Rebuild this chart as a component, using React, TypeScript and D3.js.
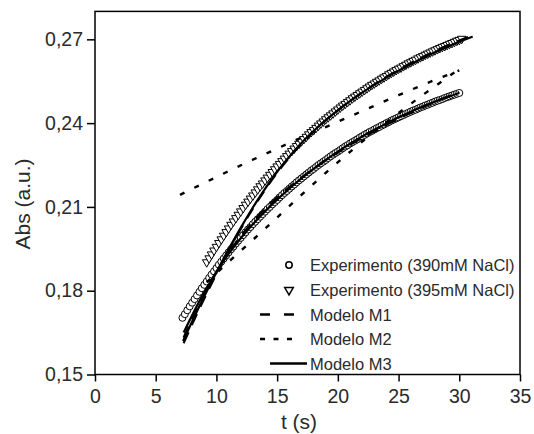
import React, { useRef, useEffect } from 'react';
import * as d3 from 'd3';

const W = 534;
const H = 434;

const xTicks = [0, 5, 10, 15, 20, 25, 30, 35];
const yTicks = [0.15, 0.18, 0.21, 0.24, 0.27];

// Experimento (390mM NaCl) — circles
const circT = [7.2,7.4,7.6,7.8,8.0,8.2,8.4,8.6,8.8,9.0,9.2,9.4,9.6,9.8,10.0,10.2,10.4,10.6,10.8,11.0,11.2,11.4,11.6,11.8,12.0,12.2,12.4,12.6,12.8,13.0,13.2,13.4,13.6,13.8,14.0,14.2,14.4,14.6,14.8,15.0,15.2,15.4,15.6,15.8,16.0,16.2,16.4,16.6,16.8,17.0,17.2,17.4,17.6,17.8,18.0,18.2,18.4,18.6,18.8,19.0,19.2,19.4,19.6,19.8,20.0,20.2,20.4,20.6,20.8,21.0,21.2,21.4,21.6,21.8,22.0,22.2,22.4,22.6,22.8,23.0,23.2,23.4,23.6,23.8,24.0,24.2,24.4,24.6,24.8,25.0,25.2,25.4,25.6,25.8,26.0,26.2,26.4,26.6,26.8,27.0,27.2,27.4,27.6,27.8,28.0,28.2,28.4,28.6,28.8,29.0,29.2,29.4,29.6,29.8,30.0];
const circAbs = [0.1703,0.1716,0.1730,0.1744,0.1757,0.1770,0.1783,0.1796,0.1809,0.1821,0.1833,0.1846,0.1858,0.1869,0.1881,0.1893,0.1904,0.1915,0.1926,0.1937,0.1948,0.1958,0.1969,0.1979,0.1989,0.1999,0.2009,0.2019,0.2028,0.2038,0.2047,0.2056,0.2065,0.2074,0.2083,0.2092,0.2100,0.2109,0.2117,0.2125,0.2134,0.2142,0.2150,0.2157,0.2165,0.2173,0.2180,0.2188,0.2195,0.2202,0.2209,0.2216,0.2223,0.2230,0.2236,0.2243,0.2250,0.2256,0.2262,0.2268,0.2275,0.2281,0.2287,0.2293,0.2298,0.2304,0.2310,0.2316,0.2321,0.2327,0.2332,0.2337,0.2342,0.2348,0.2353,0.2358,0.2363,0.2368,0.2372,0.2377,0.2382,0.2386,0.2391,0.2395,0.2400,0.2404,0.2409,0.2413,0.2417,0.2421,0.2425,0.2429,0.2433,0.2437,0.2441,0.2445,0.2448,0.2452,0.2456,0.2459,0.2463,0.2466,0.2470,0.2473,0.2477,0.2480,0.2483,0.2486,0.2490,0.2493,0.2496,0.2499,0.2502,0.2505,0.2508];

// Experimento (395mM NaCl) — triangles
const triT = [9.2,9.4,9.6,9.8,10.0,10.2,10.4,10.6,10.8,11.0,11.2,11.4,11.6,11.8,12.0,12.2,12.4,12.6,12.8,13.0,13.2,13.4,13.6,13.8,14.0,14.2,14.4,14.6,14.8,15.0,15.2,15.4,15.6,15.8,16.0,16.2,16.4,16.6,16.8,17.0,17.2,17.4,17.6,17.8,18.0,18.2,18.4,18.6,18.8,19.0,19.2,19.4,19.6,19.8,20.0,20.2,20.4,20.6,20.8,21.0,21.2,21.4,21.6,21.8,22.0,22.2,22.4,22.6,22.8,23.0,23.2,23.4,23.6,23.8,24.0,24.2,24.4,24.6,24.8,25.0,25.2,25.4,25.6,25.8,26.0,26.2,26.4,26.6,26.8,27.0,27.2,27.4,27.6,27.8,28.0,28.2,28.4,28.6,28.8,29.0,29.2,29.4,29.6,29.8,30.0,30.2];
const triAbs = [0.1902,0.1916,0.1930,0.1944,0.1957,0.1971,0.1984,0.1997,0.2010,0.2023,0.2036,0.2048,0.2060,0.2072,0.2084,0.2096,0.2108,0.2119,0.2130,0.2141,0.2152,0.2163,0.2174,0.2184,0.2195,0.2205,0.2215,0.2225,0.2235,0.2245,0.2254,0.2264,0.2273,0.2282,0.2291,0.2300,0.2309,0.2318,0.2326,0.2335,0.2343,0.2351,0.2360,0.2368,0.2375,0.2383,0.2391,0.2399,0.2406,0.2414,0.2421,0.2428,0.2435,0.2442,0.2449,0.2456,0.2463,0.2469,0.2476,0.2482,0.2489,0.2495,0.2501,0.2507,0.2513,0.2519,0.2525,0.2531,0.2537,0.2542,0.2548,0.2553,0.2559,0.2564,0.2569,0.2575,0.2580,0.2585,0.2590,0.2595,0.2599,0.2604,0.2609,0.2614,0.2618,0.2623,0.2627,0.2632,0.2636,0.2640,0.2645,0.2649,0.2653,0.2657,0.2661,0.2665,0.2669,0.2673,0.2676,0.2680,0.2684,0.2687,0.2691,0.2695,0.2698,0.2702];

// Modelo M1 (long dashes)
const m1T390 = [7.3,8,9,10,11,12,13,14,15,16,17,18,19,20,21,22,23,24,25,26,27,28,29,30];
const m1Abs390 = [0.1632,0.1700,0.1790,0.1868,0.1936,0.1995,0.2047,0.2093,0.2134,0.2171,0.2205,0.2237,0.2267,0.2295,0.2322,0.2347,0.2371,0.2394,0.2416,0.2437,0.2457,0.2476,0.2494,0.2511];
const m1T395 = [7.3,8,9,10,11,12,13,14,15,16,17,18,19,20,21,22,23,24,25,26,27,28,29,30,31];
const m1Abs395 = [0.1612,0.1680,0.1772,0.1860,0.1943,0.2021,0.2094,0.2161,0.2222,0.2277,0.2326,0.2370,0.2410,0.2446,0.2479,0.2510,0.2539,0.2566,0.2591,0.2615,0.2637,0.2658,0.2678,0.2696,0.2713];

// Modelo M2 (short dashes)
const m2T390 = [7.0,9,11,13,15,17,19,21,23,25,27,29,30];
const m2Abs390 = [0.2143,0.2186,0.2228,0.2269,0.2309,0.2348,0.2386,0.2424,0.2462,0.2500,0.2537,0.2572,0.2589];
const m2T395 = [9.2,11,13,15,17,19,21,23,25,27,29,29.8];
const m2Abs395 = [0.1830,0.1903,0.1982,0.2062,0.2143,0.2222,0.2297,0.2369,0.2436,0.2501,0.2563,0.2588];

// Modelo M3 (solid)
const m3T390 = [7.3,8,9,10,11,12,13,14,15,16,17,18,19,20,21,22,23,24,25,26,27,28,29,30];
const m3Abs390 = [0.1650,0.1712,0.1795,0.1868,0.1932,0.1988,0.2038,0.2084,0.2126,0.2165,0.2202,0.2236,0.2268,0.2298,0.2326,0.2352,0.2376,0.2399,0.2421,0.2441,0.2460,0.2477,0.2493,0.2508];
const m3T395 = [7.25,8,9,10,11,12,13,14,15,16,17,18,19,20,21,22,23,24,25,26,27,28,29,30,31.1];
const m3Abs395 = [0.1620,0.1690,0.1780,0.1866,0.1948,0.2025,0.2098,0.2165,0.2226,0.2280,0.2329,0.2372,0.2411,0.2446,0.2479,0.2509,0.2537,0.2563,0.2588,0.2611,0.2633,0.2654,0.2673,0.2691,0.2710];

const legendLabels = [
  'Experimento (390mM NaCl)',
  'Experimento (395mM NaCl)',
  'Modelo M1',
  'Modelo M2',
  'Modelo M3',
];

const FONT = '"Liberation Sans", Arial, Helvetica, sans-serif';
const TEXT = '#2a2a2a';

export default function App() {
  const ref = useRef<SVGSVGElement>(null);

  useEffect(() => {
    const svg = d3.select(ref.current);
    svg.selectAll('*').remove();

    const x = d3.scaleLinear().domain([0, 35]).range([95, 520]);
    const y = d3.scaleLinear().domain([0.15, 0.28]).range([374.5, 11.4]);

    const zip = (ts: number[], vs: number[]) => ts.map((t, i) => [t, vs[i]] as [number, number]);
    const line = d3
      .line<[number, number]>()
      .x((d) => x(d[0]))
      .y((d) => y(d[1]))
      .curve(d3.curveMonotoneX);

    // markers: circles
    const gData = svg.append('g');
    gData
      .selectAll('circle.c')
      .data(zip(circT, circAbs))
      .join('circle')
      .attr('class', 'c')
      .attr('cx', (d) => x(d[0]))
      .attr('cy', (d) => y(d[1]))
      .attr('r', 3.5)
      .attr('fill', '#fff')
      .attr('stroke', '#000')
      .attr('stroke-width', 1);

    const tri = d3.symbol().type(d3.symbolTriangle).size(32);
    gData
      .selectAll('path.t')
      .data(zip(triT, triAbs))
      .join('path')
      .attr('class', 't')
      .attr('d', tri() as string)
      .attr('transform', (d) => `translate(${x(d[0])},${y(d[1])}) rotate(180)`)
      .attr('fill', '#fff')
      .attr('stroke', '#000')
      .attr('stroke-width', 1);

    // model lines
    const models: { t: number[]; v: number[]; dash: string | null; w: number }[] = [
      { t: m1T390, v: m1Abs390, dash: '12,8', w: 2.2 },
      { t: m1T395, v: m1Abs395, dash: '12,8', w: 2.2 },
      { t: m2T390, v: m2Abs390, dash: '5,11', w: 2.4 },
      { t: m2T395, v: m2Abs395, dash: '5,11', w: 2.4 },
      { t: m3T390, v: m3Abs390, dash: null, w: 2.2 },
      { t: m3T395, v: m3Abs395, dash: null, w: 2.2 },
    ];
    const gLines = svg.append('g');
    models.forEach((m) => {
      gLines
        .append('path')
        .attr('d', line(zip(m.t, m.v)) as string)
        .attr('fill', 'none')
        .attr('stroke', '#000')
        .attr('stroke-width', m.w)
        .attr('stroke-dasharray', m.dash ?? null);
    });

    // frame
    svg
      .append('rect')
      .attr('x', x(0))
      .attr('y', y(0.28))
      .attr('width', x(35) - x(0))
      .attr('height', y(0.15) - y(0.28))
      .attr('fill', 'none')
      .attr('stroke', '#000')
      .attr('stroke-width', 1.5);

    // axes
    const xAxis = d3
      .axisBottom(x)
      .tickValues(xTicks)
      .tickSize(7)
      .tickPadding(8)
      .tickFormat((d) => String(d));
    const gx = svg.append('g').attr('transform', `translate(0,${y(0.15)})`).call(xAxis);
    gx.select('.domain').remove();
    gx.selectAll('line').attr('stroke', '#000').attr('stroke-width', 1.5);
    gx.selectAll('text').attr('font-family', FONT).attr('font-size', 19.5).attr('fill', TEXT);

    const yAxis = d3
      .axisLeft(y)
      .tickValues(yTicks)
      .tickSize(8)
      .tickPadding(4)
      .tickFormat((d) => (d as number).toFixed(2).replace('.', ','));
    const gy = svg.append('g').attr('transform', `translate(${x(0)},0)`).call(yAxis);
    gy.select('.domain').remove();
    gy.selectAll('line').attr('stroke', '#000').attr('stroke-width', 1.5);
    gy.selectAll('text').attr('font-family', FONT).attr('font-size', 19.5).attr('fill', TEXT);

    // axis titles
    svg
      .append('text')
      .attr('x', 299)
      .attr('y', 429)
      .attr('text-anchor', 'middle')
      .attr('font-family', FONT)
      .attr('font-size', 21)
      .attr('fill', TEXT)
      .text('t (s)');
    svg
      .append('text')
      .attr('transform', `translate(30,204) rotate(-90)`)
      .attr('text-anchor', 'middle')
      .attr('font-family', FONT)
      .attr('font-size', 21)
      .attr('fill', TEXT)
      .text('Abs (a.u.)');

    // legend
    const rows = [265, 290, 314.5, 339, 363.5];
    const gL = svg.append('g');
    gL.append('circle')
      .attr('cx', 289)
      .attr('cy', rows[0])
      .attr('r', 3.2)
      .attr('fill', '#fff')
      .attr('stroke', '#000')
      .attr('stroke-width', 1.5);
    gL.append('path')
      .attr('d', d3.symbol().type(d3.symbolTriangle).size(32)() as string)
      .attr('transform', `translate(289,${rows[1]}) rotate(180)`)
      .attr('fill', '#fff')
      .attr('stroke', '#000')
      .attr('stroke-width', 1.5);
    gL.append('line')
      .attr('x1', 260).attr('x2', 297)
      .attr('y1', rows[2]).attr('y2', rows[2])
      .attr('stroke', '#000').attr('stroke-width', 2.4)
      .attr('stroke-dasharray', '10,14');
    gL.append('line')
      .attr('x1', 260).attr('x2', 293)
      .attr('y1', rows[3]).attr('y2', rows[3])
      .attr('stroke', '#000').attr('stroke-width', 2.4)
      .attr('stroke-dasharray', '5,8.5');
    gL.append('line')
      .attr('x1', 270).attr('x2', 307)
      .attr('y1', rows[4]).attr('y2', rows[4])
      .attr('stroke', '#000').attr('stroke-width', 2.4);
    legendLabels.forEach((lab, i) => {
      gL.append('text')
        .attr('x', 310)
        .attr('y', rows[i] + 6)
        .attr('font-family', FONT)
        .attr('font-size', 16.5)
        .attr('fill', TEXT)
        .text(lab);
    });
  }, []);

  return (
    <svg
      ref={ref}
      width={W}
      height={H}
      style={{ position: 'absolute', left: 0, top: 0, background: '#fff' }}
    />
  );
}
